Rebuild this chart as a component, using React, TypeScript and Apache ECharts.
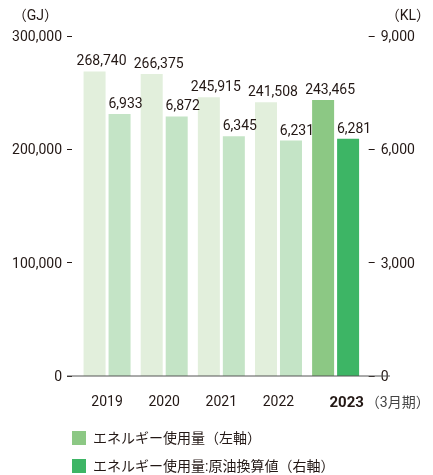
import React, { useEffect, useRef } from "react";
import * as echarts from "echarts";

const categories = ["2019", "2020", "2021", "2022", "2023"];
const energyGJ = [268740, 266375, 245915, 241508, 243465];
const crudeKL = [6933, 6872, 6345, 6231, 6281];
const leftTicks = [0, 100000, 200000, 300000];
const rightTicks = [0, 3000, 6000, 9000];
const seriesNames = ["エネルギー使用量（左軸）", "エネルギー使用量:原油換算値（右軸）"];

const FONT = "Roboto, 'Noto Sans CJK JP', sans-serif";
const TXT = "#231815";
const C_LIGHT1 = "#e2efdc";
const C_LIGHT2 = "#c4e4c6";
const C_MAIN1 = "#8cc884";
const C_MAIN2 = "#3db565";

const fmt = (v: number) => v.toLocaleString("en-US");

export default function App() {
  const ref = useRef<HTMLDivElement>(null);
  useEffect(() => {
    const chart = echarts.init(ref.current!, null, { renderer: "svg" });
    const last = categories.length - 1;
    const legendBase = {
      orient: "horizontal",
      left: 67,
      itemWidth: 14,
      itemHeight: 14,
      icon: "rect",
      textStyle: { fontFamily: FONT, fontSize: 14, color: TXT, padding: [0, 0, 0, 2] },
    };
    chart.setOption({
      animation: false,
      textStyle: { fontFamily: FONT, color: TXT },
      grid: { left: 78.5, width: 300, top: 36, height: 340 },
      legend: [
        { ...legendBase, top: 426, data: [seriesNames[0]] },
        { ...legendBase, top: 454, data: [seriesNames[1]] },
      ],
      xAxis: {
        type: "category",
        data: categories,
        axisLine: { show: false },
        axisTick: { show: false },
        axisLabel: {
          interval: 0,
          margin: 18,
          fontSize: 14,
          color: TXT,
          formatter: (v: string, i: number) =>
            i === last ? `{p|}{b|${v}}{s|（3月期）}` : v,
          rich: {
            p: { width: 88 },
            b: { fontWeight: "bold", fontSize: 15, color: TXT, fontFamily: FONT },
            s: { fontSize: 14, color: "#444", fontFamily: FONT, padding: [0, 0, 0, 2] },
          },
        },
      },
      yAxis: [
        {
          type: "value",
          min: leftTicks[0],
          max: leftTicks[leftTicks.length - 1],
          interval: leftTicks[1] - leftTicks[0],
          offset: 6.5,
          name: "（GJ）",
          nameLocation: "end",
          nameGap: 14,
          nameTextStyle: { fontSize: 14, color: TXT, align: "right", padding: [0, 14, 0, 0] },
          axisLine: { show: false },
          axisTick: { show: true, length: 5, lineStyle: { color: TXT, width: 1 } },
          splitLine: { show: false },
          axisLabel: { fontSize: 14, color: TXT, margin: 10, formatter: (v: number) => fmt(v) },
        },
        {
          type: "value",
          min: rightTicks[0],
          max: rightTicks[rightTicks.length - 1],
          interval: rightTicks[1] - rightTicks[0],
          offset: 4.5,
          position: "right",
          name: "（KL）",
          nameLocation: "end",
          nameGap: 14,
          nameTextStyle: { fontSize: 14, color: TXT, align: "left", padding: [0, 0, 0, 17] },
          axisLine: { show: false },
          axisTick: { show: true, length: 6, lineStyle: { color: TXT, width: 1 } },
          splitLine: { show: false },
          axisLabel: { fontSize: 14, color: TXT, margin: 12, formatter: (v: number) => fmt(v) },
        },
      ],
      series: [
        {
          name: seriesNames[0],
          type: "bar",
          yAxisIndex: 0,
          barWidth: 22,
          barGap: "13.6%",
          itemStyle: { color: C_MAIN1 },
          data: energyGJ.map((v, i) => ({
            value: v,
            itemStyle: { color: i === last ? C_MAIN1 : C_LIGHT1 },
          })),
          label: {
            show: true,
            position: "top",
            distance: 4,
            offset: [7, 0],
            fontSize: 14,
            color: TXT,
            formatter: (p: any) => fmt(p.value),
          },
        },
        {
          name: seriesNames[1],
          type: "bar",
          yAxisIndex: 1,
          barWidth: 22,
          itemStyle: { color: C_MAIN2 },
          data: crudeKL.map((v, i) => ({
            value: v,
            itemStyle: { color: i === last ? C_MAIN2 : C_LIGHT2 },
          })),
          label: {
            show: true,
            position: "top",
            distance: 4,
            offset: [6, 0],
            fontSize: 14,
            color: TXT,
            formatter: (p: any) => fmt(p.value),
          },
        },
      ],
    });
    const y0 = chart.convertToPixel({ yAxisIndex: 0 }, 0) as number;
    chart.setOption({
      graphic: [
        {
          type: "line",
          shape: { x1: 67, y1: y0, x2: 390, y2: y0 },
          style: { stroke: "#555", lineWidth: 1 },
          z: 10,
        },
      ],
    });
    return () => chart.dispose();
  }, []);
  return (
    <div
      ref={ref}
      style={{ position: "fixed", left: 0, top: 0, width: 433, height: 475 }}
    />
  );
}
